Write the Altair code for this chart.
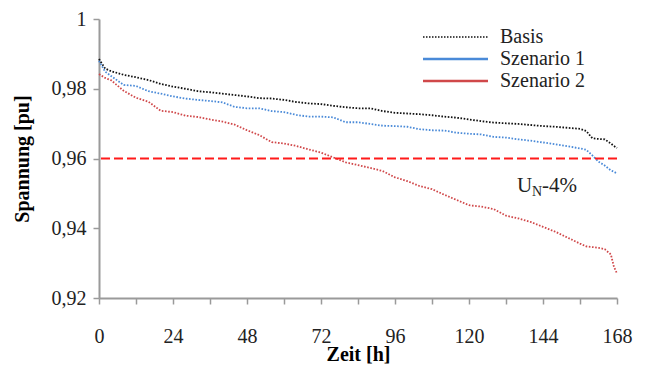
import altair as alt
import pandas as pd

# Stunden der Woche (Dauerlinie der Knotenspannung)
hours = [0, 2, 4, 8, 12, 16, 20, 24, 28, 32, 36, 40, 44, 48, 52, 56, 60, 64,
         68, 72, 76, 80, 84, 88, 92, 96, 100, 104, 108, 112, 116, 120, 124,
         128, 132, 136, 140, 144, 148, 152, 156, 158, 160, 162, 164, 166, 167, 168]

basis = [0.9885, 0.9858, 0.9850, 0.9840, 0.9833, 0.9825, 0.9814, 0.9806, 0.9800,
         0.9793, 0.9790, 0.9786, 0.9782, 0.9778, 0.9773, 0.9772, 0.9768, 0.9762,
         0.9758, 0.9756, 0.9751, 0.9747, 0.9744, 0.9744, 0.9736, 0.9731, 0.9729,
         0.9727, 0.9724, 0.9720, 0.9717, 0.9712, 0.9707, 0.9703, 0.9701, 0.9699,
         0.9696, 0.9693, 0.9691, 0.9688, 0.9685, 0.9679, 0.9658, 0.9656, 0.9655,
         0.9643, 0.9636, 0.9630]

szenario1 = [0.9880, 0.9849, 0.9836, 0.9811, 0.9808, 0.9793, 0.9786, 0.9778, 0.9772,
             0.9768, 0.9765, 0.9761, 0.9748, 0.9744, 0.9744, 0.9736, 0.9733, 0.9725,
             0.9720, 0.9720, 0.9718, 0.9704, 0.9704, 0.9699, 0.9694, 0.9693, 0.9691,
             0.9684, 0.9681, 0.9680, 0.9674, 0.9671, 0.9669, 0.9662, 0.9660, 0.9655,
             0.9651, 0.9646, 0.9641, 0.9635, 0.9629, 0.9625, 0.9609, 0.9591, 0.9580,
             0.9566, 0.9562, 0.9557]

szenario2 = [0.9842, 0.9831, 0.9824, 0.9794, 0.9774, 0.9763, 0.9737, 0.9733, 0.9723,
             0.9719, 0.9712, 0.9706, 0.9697, 0.9681, 0.9667, 0.9647, 0.9643, 0.9636,
             0.9626, 0.9617, 0.9603, 0.9589, 0.9581, 0.9573, 0.9564, 0.9546, 0.9535,
             0.9521, 0.9512, 0.9496, 0.9481, 0.9466, 0.9462, 0.9455, 0.9436, 0.9428,
             0.9418, 0.9404, 0.9390, 0.9373, 0.9356, 0.9348, 0.9346, 0.9344, 0.9340,
             0.9325, 0.9290, 0.9270]

series_names = ["Basis", "Szenario 1", "Szenario 2"]
series_colors = ["#111111", "#4a8ad8", "#d0484a"]
grenzwert = 0.96  # U_N - 4 %

y_ticks = [0.92, 0.94, 0.96, 0.98, 1.0]
x_ticks = list(range(0, 169, 12))

SERIF = "'Liberation Serif', 'Times New Roman', 'DejaVu Serif', serif"

rows = []
for name, vals in zip(series_names, [basis, szenario1, szenario2]):
    for h, v in zip(hours, vals):
        rows.append({"Zeit": h, "Spannung": v, "Serie": name})
df = pd.DataFrame(rows)

x_enc = alt.X(
    "Zeit:Q",
    scale=alt.Scale(domain=[0, 168], nice=False, zero=False),
    axis=alt.Axis(
        values=x_ticks,
        labelExpr="datum.value % 24 == 0 ? datum.label : ''",
        title="Zeit [h]",
        titleFont=SERIF, titleFontSize=20, titleFontWeight="bold",
        titleColor="#000000", titleY=56, titleBaseline="middle",
        labelFont=SERIF, labelFontSize=20, labelColor="#222222",
        labelPadding=22, tickSize=6, tickColor="#9a9a9a",
        domainColor="#9a9a9a", domainWidth=2, tickWidth=1.5,
        grid=False, labelFlush=False, labelOverlap=False,
    ),
)
y_scale = alt.Scale(domain=[0.92, 1.0], nice=False, zero=False)
y_enc = alt.Y(
    "Spannung:Q",
    scale=y_scale,
    axis=alt.Axis(
        values=y_ticks,
        labelExpr="replace(format(datum.value, '~g'), '.', ',')",
        title="Spannung [pu]",
        titleFont=SERIF, titleFontSize=20, titleFontWeight="bold",
        titleColor="#000000", titleX=-77, titleBaseline="middle",
        labelFont=SERIF, labelFontSize=20, labelColor="#222222",
        labelPadding=7, tickSize=6, tickColor="#9a9a9a",
        domainColor="#9a9a9a", domainWidth=2, tickWidth=1.5,
        grid=False, labelFlush=False, labelOverlap=False,
    ),
)

lines = alt.Chart(df).mark_line(strokeWidth=1.8, strokeDash=[1.6, 1.6]).encode(
    x=x_enc,
    y=y_enc,
    color=alt.Color("Serie:N", scale=alt.Scale(domain=series_names, range=series_colors),
                    legend=None),
    detail="Serie:N",
)

limit = alt.Chart(pd.DataFrame({"Spannung": [grenzwert]})).mark_rule(
    color="#ff1a1a", strokeWidth=2, strokeDash=[9, 4]
).encode(y=alt.Y("Spannung:Q", scale=y_scale))

# Legende: Linienmuster links, Name rechts
legend_layers = []
leg_rows_y = [18, 40, 62]
leg_dash = [[1.5, 1.5], [1, 0], [1, 0]]
leg_width = [1.5, 2.5, 2.5]
for name, col, ly, dash, sw in zip(series_names, series_colors, leg_rows_y, leg_dash, leg_width):
    d = pd.DataFrame({"Serie": [name]})
    legend_layers.append(
        alt.Chart(d).mark_rule(color=col, strokeWidth=sw, strokeDash=dash).encode(
            x=alt.value(324), x2=alt.value(389), y=alt.value(ly)
        )
    )
    legend_layers.append(
        alt.Chart(d).mark_text(
            align="left", baseline="middle", font=SERIF, fontSize=20, color="#222222"
        ).encode(x=alt.value(401), y=alt.value(ly), text="Serie:N")
    )

# Beschriftung der Spannungsgrenze
ann_u = alt.Chart(pd.DataFrame({"t": ["U"]})).mark_text(
    align="left", baseline="alphabetic", font=SERIF, fontSize=21, color="#222222"
).encode(x=alt.value(418), y=alt.value(173), text="t:N")
ann_n = alt.Chart(pd.DataFrame({"t": ["N"]})).mark_text(
    align="left", baseline="alphabetic", font=SERIF, fontSize=14, color="#222222"
).encode(x=alt.value(433), y=alt.value(177), text="t:N")
ann_r = alt.Chart(pd.DataFrame({"t": ["-4%"]})).mark_text(
    align="left", baseline="alphabetic", font=SERIF, fontSize=21, color="#222222"
).encode(x=alt.value(443), y=alt.value(173), text="t:N")

chart = alt.layer(lines, limit, *legend_layers, ann_u, ann_n, ann_r).properties(
    width=518, height=279,
    autosize=alt.AutoSizeParams(type="none"),
    padding={"left": 99, "top": 19, "right": 30, "bottom": 68},
    background="#ffffff",
).configure_view(stroke=None)

chart.save("out.html", embed_options={"renderer": "svg", "actions": False})
